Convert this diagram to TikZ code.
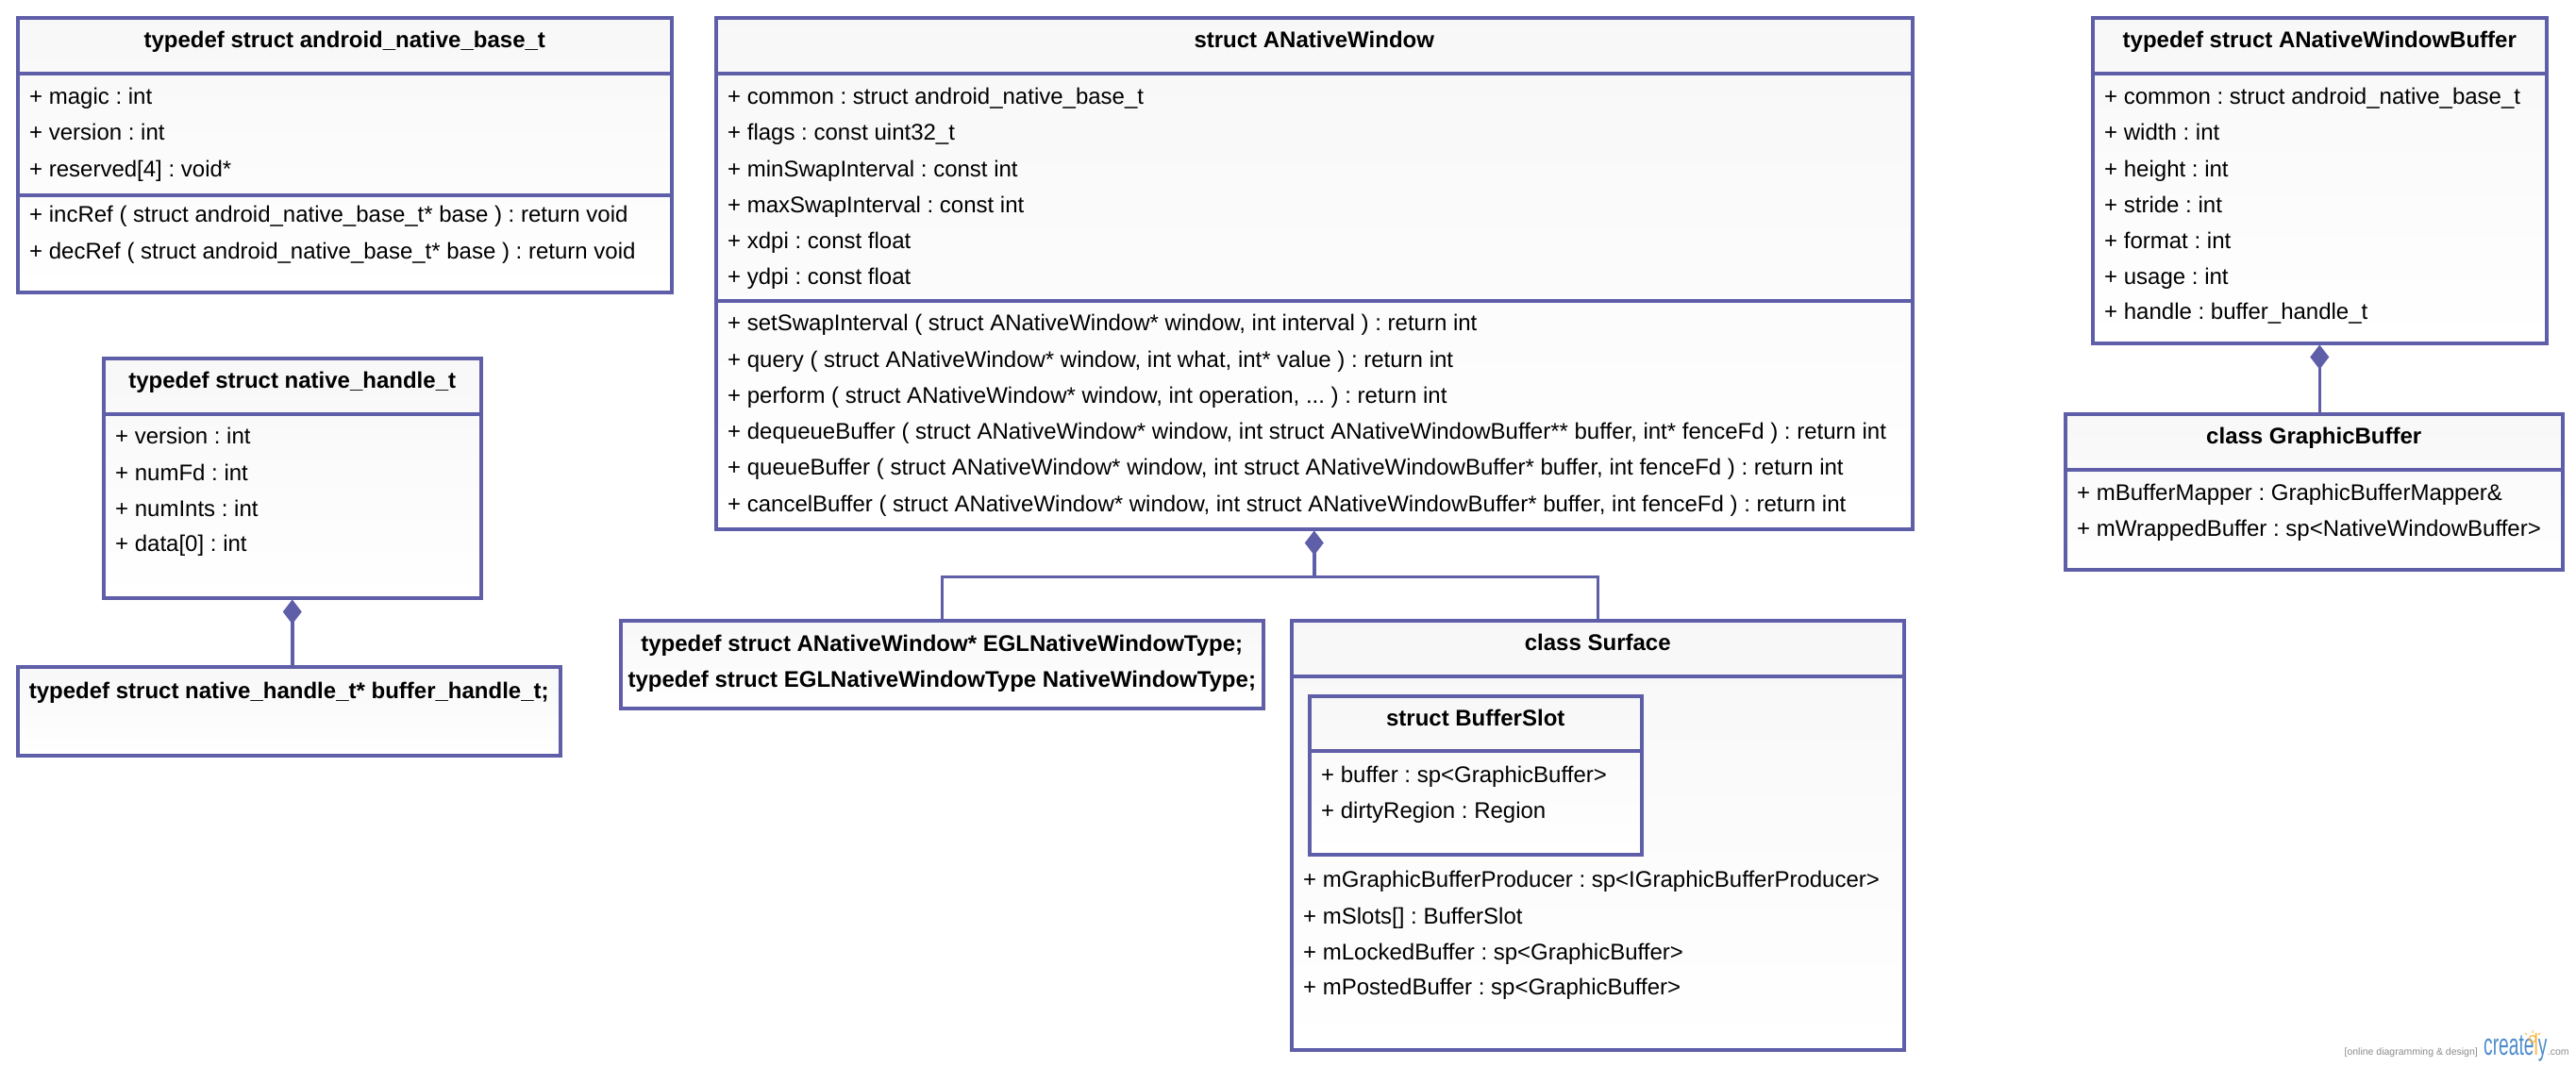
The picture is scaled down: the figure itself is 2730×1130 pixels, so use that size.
\documentclass[tikz,border=0pt]{standalone}
\usepackage{fontspec}
\setmainfont{Liberation Sans}
\usetikzlibrary{arrows.meta,calc}
\definecolor{umlline}{RGB}{95,94,168}
\definecolor{crblue}{RGB}{78,140,205}
\definecolor{crorange}{RGB}{250,180,60}
\frenchspacing
\begin{document}
\begin{tikzpicture}[x=1pt,y=-1pt,
  umlbox/.style={draw=umlline, line width=3.5pt, top color=black!3, bottom color=white, rectangle, inner sep=0pt, anchor=north west},
  sepline/.style={draw=umlline, line width=3.5pt},
  conn/.style={draw=umlline, line width=3.5pt},
  comp/.style={{Diamond[length=26pt,width=20pt]}-},
  title/.style={font=\bfseries\fontsize{24}{28}\selectfont, anchor=mid, inner sep=0pt, yshift=-7pt},
  attr/.style={font=\fontsize{24}{28}\selectfont, anchor=mid west, inner sep=0pt, yshift=-7pt},
]
\useasboundingbox[fill=white] (0,0) rectangle (2730,1130);

% ---------- android_native_base_t ----------
\node[umlbox, minimum width=693pt, minimum height=291pt] (A) at (17,17) {};
\draw[sepline] (A.west |- 0,78) -- (A.east |- 0,78);
\draw[sepline] (A.west |- 0,207) -- (A.east |- 0,207);
\node[title] (At) at (A.north |- 0,41) {typedef struct android\_native\_base\_t};
\node[attr] (A1) at (31,101) {+ magic : int};
\node[attr] (A2) at (31,139) {+ version : int};
\node[attr] (A3) at (31,178) {+ reserved[4] : void*};
\node[attr] (A4) at (31,226) {+ incRef ( struct android\_native\_base\_t* base ) : return void};
\node[attr] (A5) at (31,265) {+ decRef ( struct android\_native\_base\_t* base ) : return void};

% ---------- ANativeWindow ----------
\node[umlbox, minimum width=1268pt, minimum height=542pt] (B) at (757,17) {};
\draw[sepline] (B.west |- 0,78) -- (B.east |- 0,78);
\draw[sepline] (B.west |- 0,319) -- (B.east |- 0,319);
\node[title] (Bt) at (B.north |- 0,41) {struct ANativeWindow};
\node[attr] (B1) at (771,101) {+ common : struct android\_native\_base\_t};
\node[attr] (B2) at (771,139) {+ flags : const uint32\_t};
\node[attr] (B3) at (771,178) {+ minSwapInterval : const int};
\node[attr] (B4) at (771,216) {+ maxSwapInterval : const int};
\node[attr] (B5) at (771,254) {+ xdpi : const float};
\node[attr] (B6) at (771,292) {+ ydpi : const float};
\node[attr] (B7) at (771,341) {+ setSwapInterval ( struct ANativeWindow* window, int interval ) : return int};
\node[attr] (B8) at (771,380) {+ query ( struct ANativeWindow* window, int what, int* value ) : return int};
\node[attr] (B9) at (771,418) {+ perform ( struct ANativeWindow* window, int operation, ... ) : return int};
\node[attr] (B10) at (771,456) {+ dequeueBuffer ( struct ANativeWindow* window, int struct ANativeWindowBuffer** buffer, int* fenceFd ) : return int};
\node[attr] (B11) at (771,494) {+ queueBuffer ( struct ANativeWindow* window, int struct ANativeWindowBuffer* buffer, int fenceFd ) : return int};
\node[attr] (B12) at (771,533) {+ cancelBuffer ( struct ANativeWindow* window, int struct ANativeWindowBuffer* buffer, int fenceFd ) : return int};

% ---------- ANativeWindowBuffer ----------
\node[umlbox, minimum width=481pt, minimum height=345pt] (C) at (2216,17) {};
\draw[sepline] (C.west |- 0,78) -- (C.east |- 0,78);
\node[title] (Ct) at (C.north |- 0,41) {typedef struct ANativeWindowBuffer};
\node[attr] (C1) at (2230,101) {+ common : struct android\_native\_base\_t};
\node[attr] (C2) at (2230,139) {+ width : int};
\node[attr] (C3) at (2230,178) {+ height : int};
\node[attr] (C4) at (2230,216) {+ stride : int};
\node[attr] (C5) at (2230,254) {+ format : int};
\node[attr] (C6) at (2230,292) {+ usage : int};
\node[attr] (C7) at (2230,329) {+ handle : buffer\_handle\_t};

% ---------- GraphicBuffer ----------
\node[umlbox, minimum width=527pt, minimum height=165pt] (D) at (2187,437) {};
\draw[sepline] (D.west |- 0,498) -- (D.east |- 0,498);
\node[title] (Dt) at (D.north |- 0,461) {class GraphicBuffer};
\node[attr] (D1) at (2201,521) {+ mBufferMapper : GraphicBufferMapper\&};
\node[attr] (D2) at (2201,559) {+ mWrappedBuffer : sp<NativeWindowBuffer>};

% ---------- native_handle_t ----------
\node[umlbox, minimum width=400pt, minimum height=254pt] (E) at (108,378) {};
\draw[sepline] (E.west |- 0,439) -- (E.east |- 0,439);
\node[title] (Et) at (E.north |- 0,402) {typedef struct native\_handle\_t};
\node[attr] (E1) at (122,461) {+ version : int};
\node[attr] (E2) at (122,500) {+ numFd : int};
\node[attr] (E3) at (122,538) {+ numInts : int};
\node[attr] (E4) at (122,575) {+ data[0] : int};

% ---------- buffer_handle_t ----------
\node[umlbox, minimum width=575pt, minimum height=94pt] (F) at (17,705) {};
\node[title] (Ft) at (F.north |- 0,731) {typedef struct native\_handle\_t* buffer\_handle\_t;};

% ---------- EGLNativeWindowType ----------
\node[umlbox, minimum width=681pt, minimum height=93pt] (G) at (656,656) {};
\node[title] (G1) at (G.north |- 0,681) {typedef struct ANativeWindow* EGLNativeWindowType;};
\node[title] (G2) at (G.north |- 0,719) {typedef struct EGLNativeWindowType NativeWindowType;};

% ---------- Surface ----------
\node[umlbox, minimum width=649pt, minimum height=455pt] (H) at (1367,656) {};
\draw[sepline] (H.west |- 0,717) -- (H.east |- 0,717);
\node[title] (Ht) at (H.north |- 0,680) {class Surface};
\node[umlbox, minimum width=352pt, minimum height=168pt] (I) at (1386,736) {};
\draw[sepline] (I.west |- 0,796) -- (I.east |- 0,796);
\node[title] (It) at (I.north |- 0,760) {struct BufferSlot};
\node[attr] (I1) at (1400,820) {+ buffer : sp<GraphicBuffer>};
\node[attr] (I2) at (1400,858) {+ dirtyRegion : Region};
\node[attr] (H1) at (1381,931) {+ mGraphicBufferProducer : sp<IGraphicBufferProducer>};
\node[attr] (H2) at (1381,970) {+ mSlots[] : BufferSlot};
\node[attr] (H3) at (1381,1008) {+ mLockedBuffer : sp<GraphicBuffer>};
\node[attr] (H4) at (1381,1045) {+ mPostedBuffer : sp<GraphicBuffer>};

% ---------- connectors ----------
\draw[conn, comp] (C.south) -- (C.south |- D.north);
\draw[conn, comp] (E.south) -- (E.south |- F.north);
\coordinate (jB) at ($(B.south)+(0,49)$);
\draw[conn, comp] (B.south) -- (jB);
\draw[conn] (G.north) |- (jB) -| (H.north);

% ---------- watermark ----------
\node[anchor=base east, inner sep=0pt, text=black!45, font=\fontsize{10.5}{12}\selectfont] (wm1) at (2626,1118) {[online diagramming \& design]};
\node[anchor=base west, inner sep=0pt, font=\fontsize{32}{34}\selectfont] (wm2) at (2632,1118) {\scalebox{0.6}[1]{\textcolor{crblue}{create}\textcolor{crorange}{l}\textcolor{crblue}{y}}};
\node[anchor=base west, inner sep=0pt, text=black!45, font=\fontsize{10.5}{12}\selectfont] (wm3) at (wm2.base east) {.com};
\draw[crorange, line width=1.2pt] (2684,1101) circle (3.5pt);
\draw[crorange, line width=1pt] (2684,1095) -- (2684,1092) (2678,1097) -- (2676,1095) (2690,1097) -- (2692,1095);
\end{tikzpicture}
\end{document}
